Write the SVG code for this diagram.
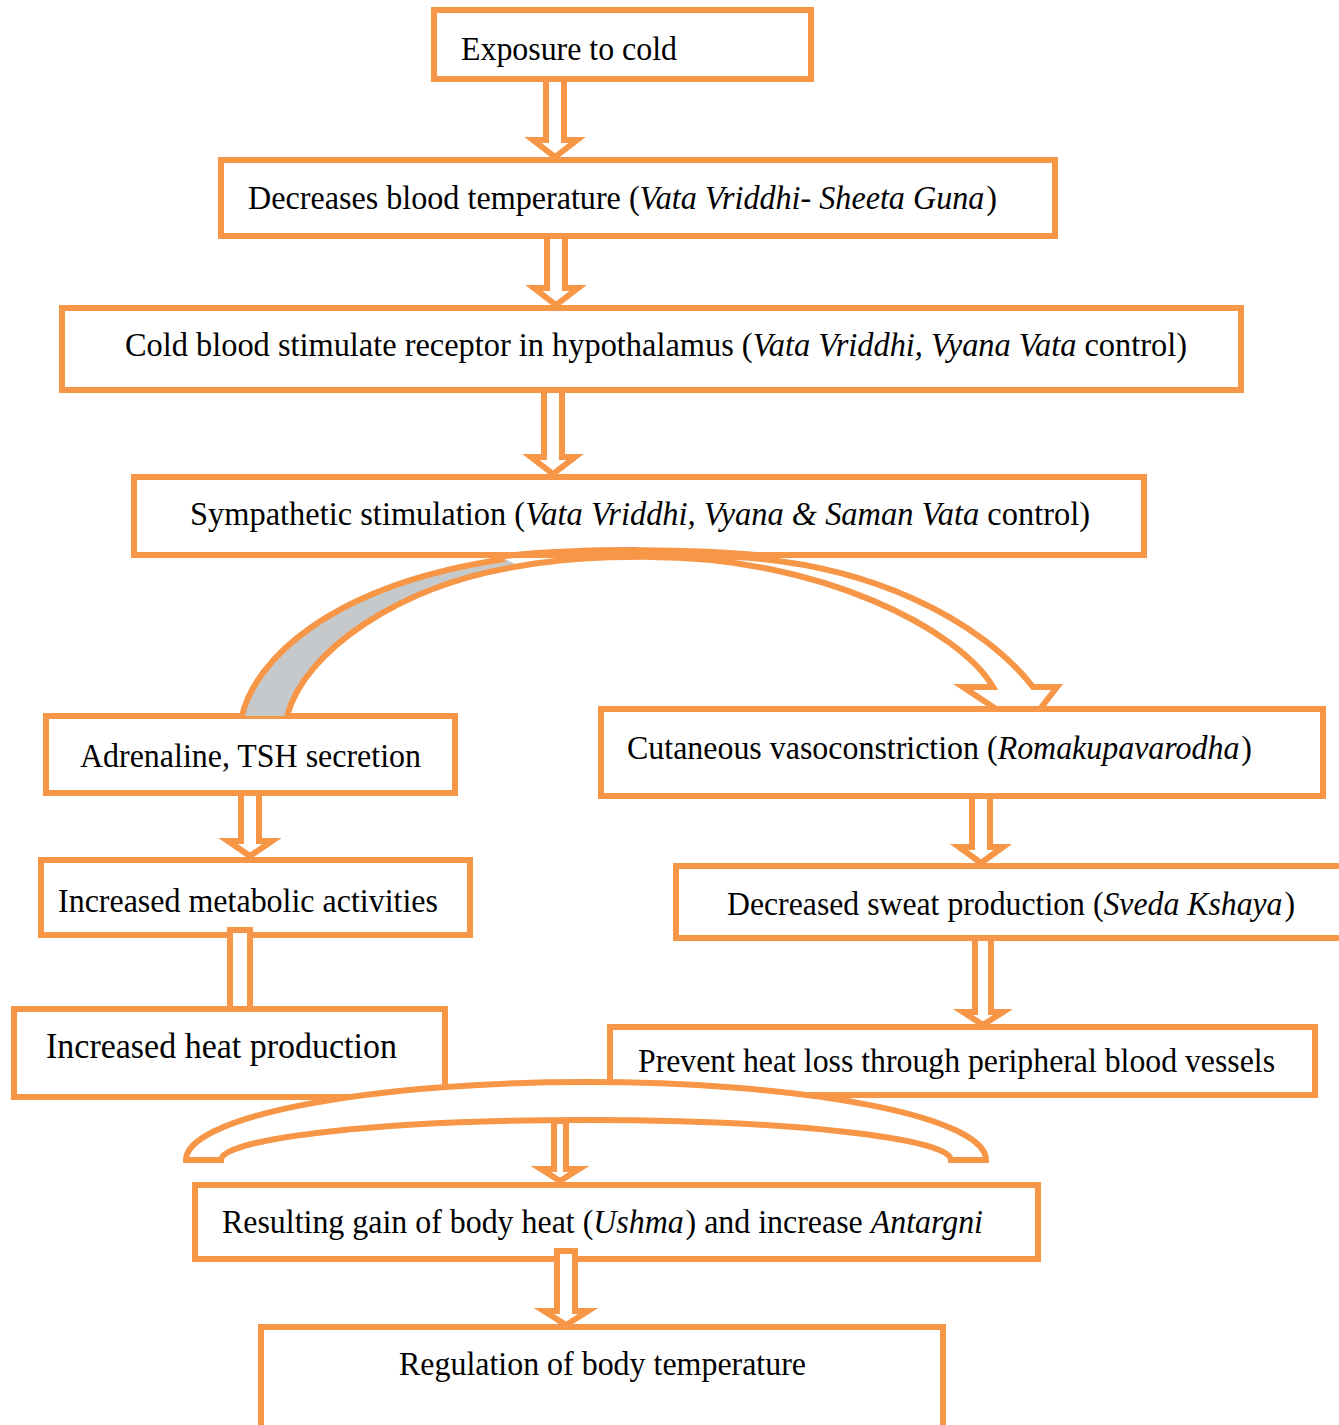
<svg xmlns="http://www.w3.org/2000/svg" width="1339" height="1425" viewBox="0 0 1339 1425">
<style>
.box{fill:#fff;stroke:#F79646;stroke-width:6}
.t{font-family:"Liberation Serif","Times New Roman",serif;font-size:33px;fill:#000}
.i{font-style:italic}
.arr{fill:#fff;stroke:#F79646;stroke-width:6;stroke-linejoin:miter}
.ln{fill:none;stroke:#F79646;stroke-width:6}
</style>
<rect width="1339" height="1425" fill="#fff"/>
<g id="nodes">
<g id="n1"><rect class="box" x="434" y="10" width="377" height="69"/><text class="t" x="461" y="60" textLength="216" lengthAdjust="spacingAndGlyphs">Exposure to cold</text></g>
<g id="n2"><rect class="box" x="221" y="160" width="834" height="76"/><text class="t" x="248" y="209" textLength="749" lengthAdjust="spacingAndGlyphs">Decreases blood temperature (<tspan class="i">Vata Vriddhi- Sheeta Guna</tspan><tspan dx="2">)</tspan></text></g>
<g id="n3"><rect class="box" x="62" y="308" width="1179" height="82"/><text class="t" x="125" y="356" textLength="1062" lengthAdjust="spacingAndGlyphs">Cold blood stimulate receptor in hypothalamus (<tspan class="i">Vata Vriddhi, Vyana Vata</tspan> control)</text></g>
<g id="n4"><rect class="box" x="134" y="477" width="1010" height="78"/><text class="t" x="190" y="525" textLength="900" lengthAdjust="spacingAndGlyphs">Sympathetic stimulation (<tspan class="i">Vata Vriddhi, Vyana &amp; Saman Vata</tspan> control)</text></g>
<g id="n5"><rect class="box" x="46" y="716" width="409" height="77"/><text class="t" x="80" y="767" textLength="341" lengthAdjust="spacingAndGlyphs">Adrenaline, TSH secretion</text></g>
<g id="n6"><rect class="box" x="601" y="709" width="722" height="87"/><text class="t" x="627" y="759" textLength="625" lengthAdjust="spacingAndGlyphs">Cutaneous vasoconstriction (<tspan class="i">Romakupavarodha</tspan><tspan dx="2">)</tspan></text></g>
<g id="n7"><rect class="box" x="41" y="860" width="429" height="75"/><text class="t" x="58" y="912" textLength="380" lengthAdjust="spacingAndGlyphs">Increased metabolic activities</text></g>
<g id="n8"><rect class="box" x="14" y="1009" width="431" height="88"/><text class="t" x="46" y="1058" style="font-size:36px" textLength="351" lengthAdjust="spacingAndGlyphs">Increased heat production</text></g>
<g id="n9"><rect class="box" x="676" y="866" width="700" height="72"/><text class="t" x="727" y="915" textLength="568" lengthAdjust="spacingAndGlyphs">Decreased sweat production (<tspan class="i">Sveda Kshaya</tspan><tspan dx="2">)</tspan></text></g>
<g id="n10"><rect class="box" x="610" y="1027" width="705" height="68"/><text class="t" x="638" y="1072" textLength="637" lengthAdjust="spacingAndGlyphs">Prevent heat loss through peripheral blood vessels</text></g>
<g id="n11"><rect class="box" x="195" y="1185" width="843" height="74"/><text class="t" x="222" y="1233" textLength="761" lengthAdjust="spacingAndGlyphs">Resulting gain of body heat (<tspan class="i">Ushma</tspan><tspan dx="2">) and increase </tspan><tspan class="i">Antargni</tspan></text></g>
<g id="n12"><rect class="box" x="261" y="1327" width="682" height="120"/><text class="t" x="399" y="1375" textLength="407" lengthAdjust="spacingAndGlyphs">Regulation of body temperature</text></g>
</g>
<g id="connectors">
<polygon class="arr" points="546,79 564,79 564,140 577,140 555,157 533,140 546,140"/>
<polygon class="arr" points="547,236 565,236 565,288 578,288 556,305 534,288 547,288"/>
<polygon class="arr" points="544,390 562,390 562,457 575,457 553,474 531,457 544,457"/>
<path d="M 242,716 C 255,660 330,585 505,559 L 520,566 C 400,585 305,650 287,716 Z" fill="#C5C9CB"/>
<path class="ln" d="M 242,716 C 255,660 330,585 505,559"/>
<path class="ln" d="M 287,716 C 305,650 400,585 520,566 C 560,559 610,556 665,557"/>
<path class="ln" d="M 505,556 C 580,548 700,548 775,557"/>
<path class="arr" d="M 700,556 C 870,556 985,625 1033,687 L 1057,687 L 1040,709 L 996,709 L 963,687 L 993,687 C 960,630 820,557 650,557 Z"/>
<polygon class="arr" points="241,793 259,793 259,841 272,841 250,856 228,841 241,841"/>
<path class="arr" d="M 230,1006 V 930 H 250 V 1006"/>
<polygon class="arr" points="972,796 990,796 990,847 1003,847 981,863 959,847 972,847"/>
<polygon class="arr" points="975,938 991,938 991,1012 1003,1012 983,1025 963,1012 975,1012"/>
<path class="arr" d="M 186,1160 A 400,78 0 0 1 986,1160 L 951,1160 A 365,40 0 0 0 221,1160 Z"/>
<polygon class="arr" points="554,1121 566,1121 566,1169 579,1169 560,1181 541,1169 554,1169"/>
<polygon class="arr" points="557,1251 575,1251 575,1311 588,1311 566,1325 544,1311 557,1311"/>
</g>
</svg>
